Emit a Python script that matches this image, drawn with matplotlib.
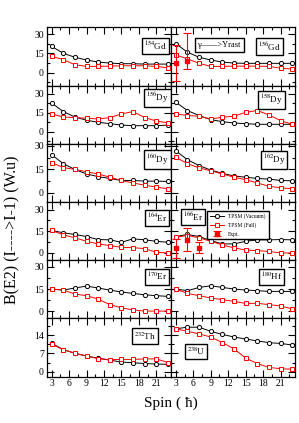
import numpy as np
import matplotlib
matplotlib.use('Agg')
from matplotlib import pyplot as plt
from matplotlib.ticker import MultipleLocator

plt.rcParams['font.family'] = ['Liberation Serif', 'DejaVu Serif']
plt.rcParams['mathtext.fontset'] = 'stix'

spins = [3, 5, 7, 9, 11, 13, 15, 17, 19, 21, 23]

# TPSM (Vacuum) and TPSM (Full) B(E2) values, W.u.
gd154_vac = [20.4, 15.1, 11.9, 9.8, 8.2, 7.4, 6.9, 6.9, 6.6, 6.6, 6.6]
gd154_full = [12.7, 10.1, 6.1, 4.8, 4.8, 5.0, 5.3, 5.3, 5.3, 4.8, 3.7]
gd156_vac = [22.5, 15.9, 11.9, 9.8, 8.2, 7.4, 7.2, 7.2, 7.2, 7.2, 7.2]
gd156_full = [13.8, 10.6, 7.2, 4.8, 4.8, 5.0, 5.0, 5.0, 4.8, 3.4, 2.7]
dy156_vac = [22.8, 16.0, 11.7, 9.1, 7.5, 6.4, 5.3, 4.8, 4.8, 4.8, 5.3]
dy156_full = [14.1, 11.7, 11.2, 10.7, 10.1, 11.2, 14.1, 16.0, 11.2, 8.5, 7.0]
dy158_vac = [23.4, 16.8, 12.8, 9.6, 8.0, 6.9, 6.4, 5.9, 5.9, 5.9, 5.9]
dy158_full = [14.1, 12.8, 12.3, 10.1, 11.5, 12.3, 15.4, 16.8, 13.3, 8.8, 5.9]
dy160_vac = [24.4, 18.6, 14.9, 12.0, 10.3, 9.1, 7.8, 7.8, 7.4, 7.4, 7.2]
dy160_full = [19.3, 16.1, 14.9, 13.4, 12.0, 9.9, 7.8, 6.2, 4.8, 3.5, 2.5]
dy162_vac = [26.9, 21.1, 17.4, 14.5, 12.4, 10.7, 9.9, 9.1, 8.7, 7.8, 7.6]
dy162_full = [22.7, 18.6, 15.9, 14.0, 12.0, 9.9, 8.3, 6.2, 4.1, 3.1, 2.5]
er164_vac = [15.6, 14.0, 12.8, 11.4, 9.3, 9.1, 7.4, 9.8, 9.1, 8.1, 7.4]
er164_full = [15.6, 12.6, 10.5, 8.1, 6.3, 5.1, 3.9, 3.7, 3.0, 0.5, 0.0]
er166_vac = [11.4, 12.8, 11.4, 8.6, 6.3, 6.3, 8.1, 9.1, 9.1, 9.3, 9.1]
er166_full = [10.9, 12.1, 10.5, 8.1, 5.6, 3.5, 2.1, 1.6, 1.1, 0.0, 0.0]
er170_vac = [15.0, 14.3, 15.7, 17.0, 15.7, 14.3, 13.0, 12.0, 11.1, 10.5, 10.0]
er170_full = [15.0, 14.3, 11.6, 10.5, 8.2, 4.4, 2.2, 0.8, 0.0, 0.0, 0.0]
hf180_vac = [15.0, 13.9, 16.1, 17.2, 16.1, 15.0, 14.3, 13.9, 13.4, 13.4, 13.4]
hf180_full = [15.0, 12.0, 10.5, 8.9, 7.8, 6.6, 5.2, 5.3, 4.4, 3.5, 1.5]
th232_vac = [11.0, 8.5, 7.1, 6.0, 5.2, 4.4, 3.7, 3.4, 3.1, 2.9, 2.8]
th232_full = [10.6, 8.5, 7.1, 6.0, 5.0, 4.6, 4.7, 4.7, 4.9, 4.9, 3.5]
u238_vac = [16.6, 17.2, 17.2, 15.6, 14.4, 13.4, 12.6, 11.9, 11.2, 10.9, 10.3]
u238_full = [16.6, 15.6, 14.6, 13.4, 11.2, 8.8, 5.2, 3.1, 1.6, 1.1, 0.9]

# experimental points
gd156_exp_spin = [3, 5]
gd156_exp = [7.4, 9.3]
gd156_exp_lo = [14.0, 6.6]
gd156_exp_hi = [14.0, 21.2]
er166_exp_spin = [3, 5, 7]
er166_exp = [3.2, 9.3, 3.5]
er166_exp_err = [6.5, 8.2, 3.8]

nuclei = [
    ('154', 'Gd', gd154_vac, gd154_full), ('156', 'Gd', gd156_vac, gd156_full),
    ('156', 'Dy', dy156_vac, dy156_full), ('158', 'Dy', dy158_vac, dy158_full),
    ('160', 'Dy', dy160_vac, dy160_full), ('162', 'Dy', dy162_vac, dy162_full),
    ('164', 'Er', er164_vac, er164_full), ('166', 'Er', er166_vac, er166_full),
    ('170', 'Er', er170_vac, er170_full), ('180', 'Hf', hf180_vac, hf180_full),
    ('232', 'Th', th232_vac, th232_full), ('238', 'U', u238_vac, u238_full),
]
row_ylims = [(-10.1, 35.3), (-9.5, 36.6), (-6.0, 31.4), (-5.0, 35.3), (-5.0, 34.6), (-2.0, 20.6)]
# label box positions (axes fraction)
label_pos = [(0.88, 0.68), (0.79, 0.67), (0.89, 0.79), (0.81, 0.75), (0.89, 0.73), (0.83, 0.72),
             (0.89, 0.73), (0.18, 0.75), (0.89, 0.71), (0.81, 0.71), (0.79, 0.70), (0.20, 0.43)]

fig, axs = plt.subplots(6, 2, figsize=(2.99, 4.23), dpi=100, sharex=True)
fig.subplots_adjust(left=0.156, right=0.987, top=0.9355, bottom=0.1095, hspace=0, wspace=0)

box = dict(boxstyle='square,pad=0.22', fc='white', ec='black', lw=1.0)

for i, (mass, elem, vac, full) in enumerate(nuclei):
    ax = axs[i // 2, i % 2]
    row = i // 2
    ax.plot(spins, vac, '-o', color='black', lw=0.7, ms=3, mfc='white', mew=0.7,
            label='TPSM (Vacuum)', zorder=3)
    ax.plot(spins, full, '-s', color='red', lw=0.7, ms=2.8, mfc='white', mew=0.7,
            label='TPSM (Full)', zorder=3)
    ax.set_xlim(2.15, 23.5)
    ax.set_ylim(*row_ylims[row])
    ax.xaxis.set_major_locator(MultipleLocator(3))
    ax.xaxis.set_minor_locator(MultipleLocator(1.5))
    if row == 5:
        ax.yaxis.set_major_locator(MultipleLocator(7))
        ax.yaxis.set_minor_locator(MultipleLocator(3.5))
    else:
        ax.yaxis.set_major_locator(MultipleLocator(15))
        ax.yaxis.set_minor_locator(MultipleLocator(7.5))
    ax.tick_params(which='both', direction='in', top=True, right=True, width=0.8,
                   labelsize=7, pad=2)
    ax.tick_params(which='major', length=5)
    ax.tick_params(which='minor', length=2.5)
    if i % 2 == 1:
        ax.tick_params(labelleft=False)
    for s in ax.spines.values():
        s.set_linewidth(0.9)
    lx, ly = label_pos[i]
    ax.text(lx, ly, rf'$^{{{mass}}}$' + elem, transform=ax.transAxes, fontsize=6.5,
            ha='center', va='center', bbox=box)

# experimental data
ax = axs[0, 1]
ax.errorbar(gd156_exp_spin, gd156_exp, yerr=[gd156_exp_lo, gd156_exp_hi], fmt='s',
            color='red', ms=3, elinewidth=0.8, capsize=3, capthick=0.8, zorder=4)
ax.text(0.39, 0.70, 'γ——>Yrast', transform=ax.transAxes, fontsize=6,
        ha='center', va='center', bbox=dict(boxstyle='square,pad=0.35', fc='white', ec='black', lw=1.0))

ax = axs[3, 1]
ax.errorbar(er166_exp_spin, er166_exp, yerr=er166_exp_err, fmt='s', color='red', ms=3,
            elinewidth=0.8, capsize=3, capthick=0.8, zorder=4, label='Expt.')
ax.legend(loc='upper left', bbox_to_anchor=(0.27, 0.9), fontsize=4, frameon=True,
          fancybox=False, edgecolor='black', framealpha=1, handlelength=2.5,
          borderpad=0.5, labelspacing=0.6)

fig.text(0.57, 0.047, 'Spin ( ħ)', ha='center', va='center', fontsize=11)
fig.text(0.04, 0.456, 'B(E2) (I---->I-1) (W.u)', rotation=90, ha='center', va='center',
         fontsize=11.5)

fig.savefig('out.png', dpi=100)
